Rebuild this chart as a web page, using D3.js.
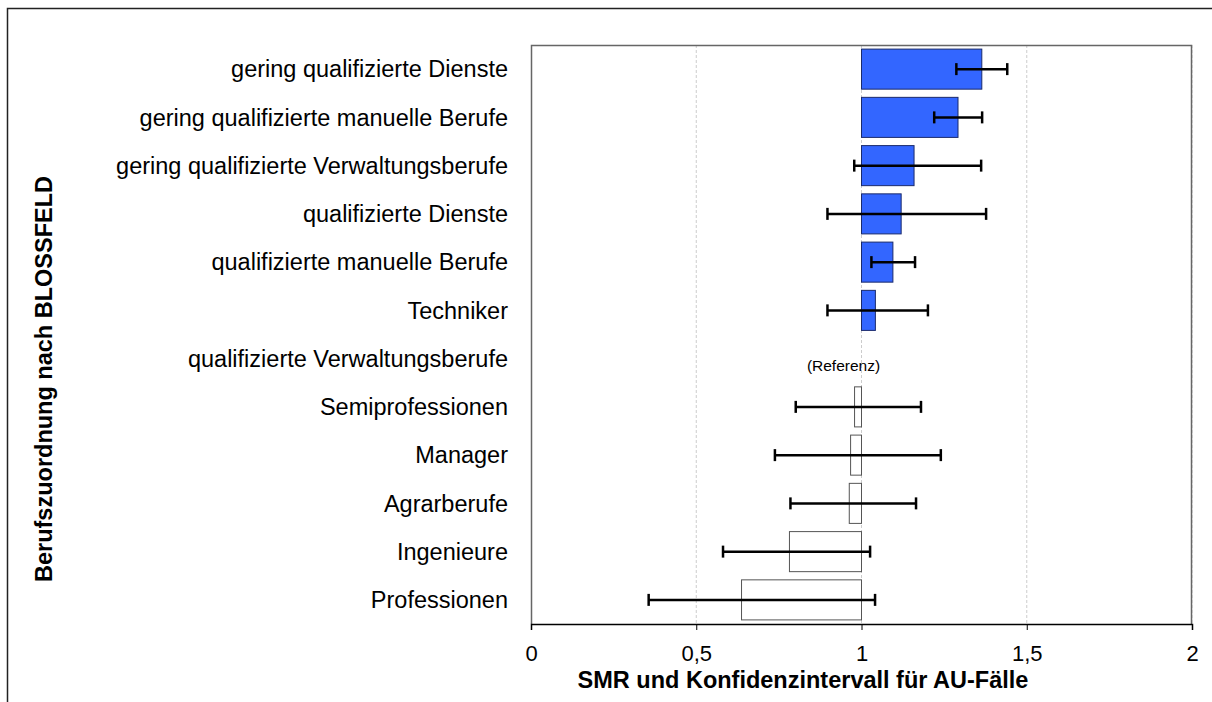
<!DOCTYPE html>
<html>
<head>
<meta charset="utf-8">
<script src="https://d3js.org/d3.v7.min.js"></script>
<style>
  body { margin: 0; background: #fff; }
  text { font-family: "Liberation Sans", Arial, sans-serif; fill: #000; }
</style>
</head>
<body>
<svg width="1212" height="702"></svg>
<script>
// categories top to bottom
var categories = [
  "gering qualifizierte Dienste",
  "gering qualifizierte manuelle Berufe",
  "gering qualifizierte Verwaltungsberufe",
  "qualifizierte Dienste",
  "qualifizierte manuelle Berufe",
  "Techniker",
  "qualifizierte Verwaltungsberufe",
  "Semiprofessionen",
  "Manager",
  "Agrarberufe",
  "Ingenieure",
  "Professionen"
];
// SMR (null = reference group)
var smr   = [1.364, 1.292, 1.159, 1.120, 1.095, 1.042, null, 0.979, 0.967, 0.963, 0.782, 0.637];
var ciLow = [1.287, 1.220, 0.978, 0.897, 1.030, 0.897, null, 0.801, 0.738, 0.785, 0.581, 0.356];
var ciHigh= [1.441, 1.365, 1.362, 1.377, 1.162, 1.201, null, 1.180, 1.240, 1.165, 1.026, 1.041];
var xTicks = [0, 0.5, 1, 1.5, 2];

var svg = d3.select("svg");
var margin = {left: 531, top: 45, right: 20, bottom: 78};
var width = 1192 - 531, height = 624 - 45;

// outer frame
svg.append("path")
  .attr("d", "M7.5,702 V8.5 H1212")
  .attr("fill", "none").attr("stroke", "#222").attr("stroke-width", 1.5);

var g = svg.append("g").attr("transform", "translate(" + margin.left + "," + margin.top + ")");

var x = d3.scaleLinear().domain([0, 2]).range([0, width]);
var y = d3.scaleBand().domain(categories).range([0, height]).paddingInner(0.17).paddingOuter(0.085);

// gridlines
g.selectAll(".grid").data(xTicks.slice(1)).enter().append("line")
  .attr("x1", d => x(d)).attr("x2", d => x(d))
  .attr("y1", 0).attr("y2", height)
  .attr("stroke", "#ccc").attr("stroke-dasharray", "3,2");

// plot frame (top, left, right)
g.append("path")
  .attr("d", "M0.5," + height + " V0.5 H" + (width - 0.5) + " V" + height)
  .attr("fill", "none").attr("stroke", "#666").attr("stroke-width", 1.5);

var rows = categories.map((c, i) => ({cat: c, v: smr[i], lo: ciLow[i], hi: ciHigh[i]}))
  .filter(d => d.v !== null);

// bars from 1
g.selectAll(".bar").data(rows).enter().append("rect")
  .attr("x", d => x(Math.min(1, d.v)))
  .attr("y", d => y(d.cat))
  .attr("width", d => Math.abs(x(d.v) - x(1)))
  .attr("height", y.bandwidth())
  .attr("fill", d => d.v > 1 ? "#3366ff" : "#fff")
  .attr("stroke", d => d.v > 1 ? "#1a2a6c" : "#555")
  .attr("stroke-width", 1);

// error bars
var eb = g.selectAll(".err").data(rows).enter().append("g")
  .attr("transform", d => "translate(0," + (y(d.cat) + y.bandwidth() / 2) + ")");
eb.append("line").attr("x1", d => x(d.lo)).attr("x2", d => x(d.hi))
  .attr("stroke", "#000").attr("stroke-width", 2.5);
eb.append("line").attr("x1", d => x(d.lo)).attr("x2", d => x(d.lo))
  .attr("y1", -6).attr("y2", 6).attr("stroke", "#000").attr("stroke-width", 2.5);
eb.append("line").attr("x1", d => x(d.hi)).attr("x2", d => x(d.hi))
  .attr("y1", -6).attr("y2", 6).attr("stroke", "#000").attr("stroke-width", 2.5);

// reference label
g.append("text")
  .attr("x", x(1) - 18).attr("y", y(categories[6]) + y.bandwidth() / 2 + 12)
  .attr("text-anchor", "middle").style("font-size", "15.5px")
  .text("(Referenz)");

// x axis
var xAxis = g.append("g").attr("transform", "translate(0," + height + ")")
  .call(d3.axisBottom(x).tickValues(xTicks).tickSize(6).tickPadding(15)
    .tickFormat(d => String(d).replace(".", ",")));
xAxis.select(".domain").attr("stroke", "#000").attr("stroke-width", 1.5);
xAxis.selectAll("text").style("font-size", "22px").style("font-family", "Liberation Sans, Arial, sans-serif");

// category labels
g.selectAll(".lab").data(categories).enter().append("text")
  .attr("x", -23).attr("y", d => y(d) + y.bandwidth() / 2)
  .attr("dy", "0.35em").attr("text-anchor", "end")
  .style("font-size", "23.5px")
  .text(d => d);

// axis titles
svg.append("text")
  .attr("x", 803).attr("y", 688).attr("text-anchor", "middle")
  .style("font-size", "23.5px").style("font-weight", "bold")
  .text("SMR und Konfidenzintervall für AU-Fälle");
svg.append("text")
  .attr("transform", "translate(52,379) rotate(-90)")
  .attr("text-anchor", "middle")
  .style("font-size", "23.5px").style("font-weight", "bold")
  .text("Berufszuordnung nach BLOSSFELD");
</script>
</body>
</html>
